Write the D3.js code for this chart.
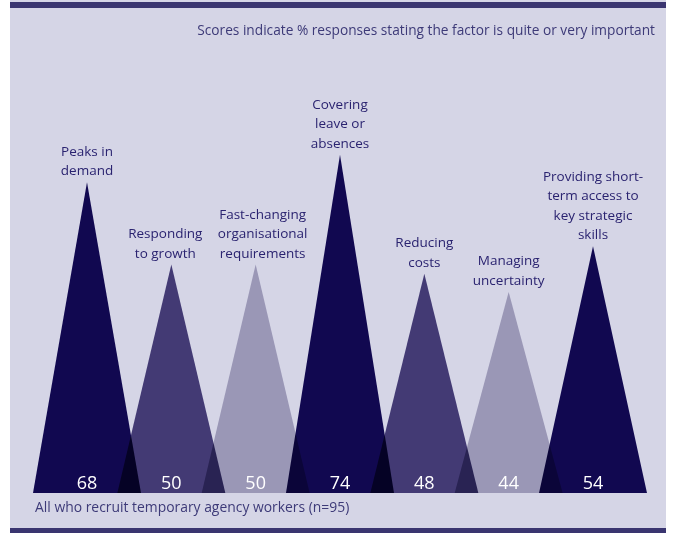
<!DOCTYPE html>
<html>
<head>
<meta charset="utf-8">
<script src="https://cdn.jsdelivr.net/npm/d3@7"></script>
<style>
  body { margin: 0; background: #fff; }
  svg text { font-family: "Open Sans", Lato, sans-serif; }
  .tri { mix-blend-mode: multiply; }
</style>
</head>
<body>
<svg id="chart" width="676" height="533"></svg>
<script>
var factors = ["Peaks in demand", "Responding to growth", "Fast-changing organisational requirements",
    "Covering leave or absences", "Reducing costs", "Managing uncertainty",
    "Providing short-term access to key strategic skills"];
var labelLines = [
    ["Peaks in", "demand"],
    ["Responding", "to growth"],
    ["Fast-changing", "organisational", "requirements"],
    ["Covering", "leave or", "absences"],
    ["Reducing", "costs"],
    ["Managing", "uncertainty"],
    ["Providing short-", "term access to", "key strategic", "skills"]
];
var scores = [68, 50, 50, 74, 48, 44, 54];
var noteText = "Scores indicate % responses stating the factor is quite or very important";
var baseText = "All who recruit temporary agency workers (n=95)";

var width = 676, height = 533;
var svg = d3.select("#chart");

var palette = d3.scaleOrdinal()
    .domain([0, 1, 2])
    .range(["#110850", "#433a74", "#9a97b6"]);

// panel
svg.append("rect")
    .attr("x", 10).attr("y", 0)
    .attr("width", 656).attr("height", 533)
    .style("fill", "#d5d5e6");
svg.append("rect")
    .attr("x", 10).attr("y", 2)
    .attr("width", 656).attr("height", 6)
    .style("fill", "#3a3570");
svg.append("rect")
    .attr("x", 10).attr("y", 528)
    .attr("width", 656).attr("height", 5)
    .style("fill", "#3a3570");

var x = d3.scalePoint()
    .domain(factors)
    .range([87, 593]);

var y = d3.scaleLinear()
    .domain([0, 100])
    .range([493, 36]);

var halfBase = 54;

var g = svg.append("g").style("isolation", "isolate");

g.selectAll("path.tri")
    .data(factors)
    .enter().append("path")
    .attr("class", "tri")
    .attr("d", function(d, i) {
        var cx = x(d);
        return "M" + (cx - halfBase) + "," + y(0) +
            "L" + cx + "," + y(scores[i]) +
            "L" + (cx + halfBase) + "," + y(0) + "Z";
    })
    .style("fill", function(d, i) { return palette(i % 3); });

// score labels
svg.selectAll("text.score")
    .data(factors)
    .enter().append("text")
    .attr("class", "score")
    .attr("x", function(d) { return x(d); })
    .attr("y", y(0) - 4)
    .attr("text-anchor", "middle")
    .attr("font-size", "18px")
    .style("fill", "#fff")
    .text(function(d, i) { return scores[i]; });

// category labels (two neighbours nudged apart so they don't touch)
var nudge = [0, -6, 7, 0, 0, 0, 0];
var lineH = 19.5;
factors.forEach(function(d, i) {
    var lines = labelLines[i];
    var lastY = y(scores[i]) - 7;
    var t = svg.append("text")
        .attr("text-anchor", "middle")
        .attr("font-size", "13.5px")
        .style("fill", "#2a2370");
    lines.forEach(function(l, k) {
        t.append("tspan")
            .attr("x", x(d) + nudge[i])
            .attr("y", lastY - (lines.length - 1 - k) * lineH)
            .text(l);
    });
});

svg.append("text")
    .attr("x", 655).attr("y", 35)
    .attr("text-anchor", "end")
    .attr("font-size", "13.7px")
    .style("fill", "#3d3a78")
    .text(noteText);

svg.append("text")
    .attr("x", 35).attr("y", 512)
    .attr("font-size", "13.9px")
    .style("fill", "#3d3a78")
    .text(baseText);
</script>
</body>
</html>
